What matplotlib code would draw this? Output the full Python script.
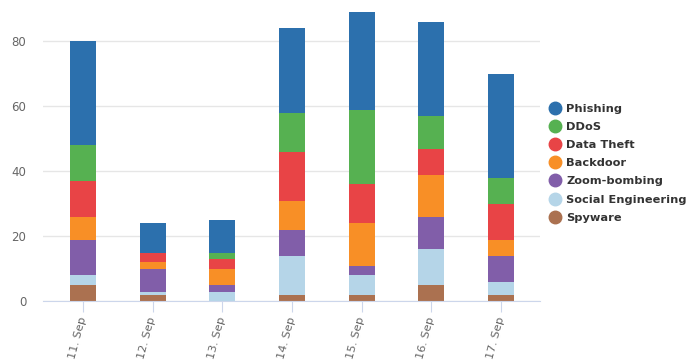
import matplotlib.pyplot as plt
from matplotlib.lines import Line2D
import numpy as np

days = ['11. Sep', '12. Sep', '13. Sep', '14. Sep', '15. Sep', '16. Sep', '17. Sep']

# stacked bottom -> top
spyware = [5, 2, 0, 2, 2, 5, 2]
social_eng = [3, 1, 3, 12, 6, 11, 4]
zoom_bombing = [11, 7, 2, 8, 3, 10, 8]
backdoor = [7, 2, 5, 9, 13, 13, 5]
data_theft = [11, 3, 3, 15, 12, 8, 11]
ddos = [11, 0, 2, 12, 23, 10, 8]
phishing = [32, 9, 10, 26, 30, 29, 32]

series = [
    ('Spyware', spyware, '#ab7150'),
    ('Social Engineering', social_eng, '#b5d5e8'),
    ('Zoom-bombing', zoom_bombing, '#815ea9'),
    ('Backdoor', backdoor, '#f88f26'),
    ('Data Theft', data_theft, '#e84446'),
    ('DDoS', ddos, '#56b151'),
    ('Phishing', phishing, '#2c70ad'),
]

fig = plt.figure(figsize=(6.99, 3.61), dpi=100)
ax = fig.add_axes([43 / 699, 59.7 / 361, 497 / 699, 292.5 / 361])

x = np.arange(len(days))
bottom = np.zeros(len(days))
for name, vals, col in series:
    ax.bar(x, vals, width=0.373, bottom=bottom, color=col, linewidth=0, zorder=2)
    bottom += np.array(vals)

ax.set_xlim(-0.574, 6.56)
ax.set_ylim(0, 90)
ax.set_yticks([0, 20, 40, 60, 80])
ax.grid(axis='y', color='#e6e6e6', linewidth=1, zorder=0)
for s in ['top', 'right', 'left']:
    ax.spines[s].set_visible(False)
ax.spines['bottom'].set_color('#ccd6eb')
ax.spines['bottom'].set_zorder(3)

ax.set_xticks(x)
ax.set_xticklabels(days, rotation=75, ha='right', va='center', rotation_mode='anchor')
ax.tick_params(axis='x', length=8, color='#ccd6eb', labelsize=8.2, labelcolor='#666666', pad=3)
ax.tick_params(axis='y', length=0, labelsize=8.5, labelcolor='#666666', pad=12)

handles = [Line2D([], [], marker='o', linestyle='', markersize=9, color=col, label=name)
           for name, vals, col in reversed(series)]
leg = fig.legend(handles=handles, loc='upper left', bbox_to_anchor=(544 / 699, 1 - 99 / 361),
                 frameon=False, handletextpad=0.35, labelspacing=0.72, borderaxespad=0,
                 handlelength=1.2, prop={'weight': 'bold', 'size': 8.2})
for t in leg.get_texts():
    t.set_color('#333333')

fig.savefig('out.png', dpi=100)
